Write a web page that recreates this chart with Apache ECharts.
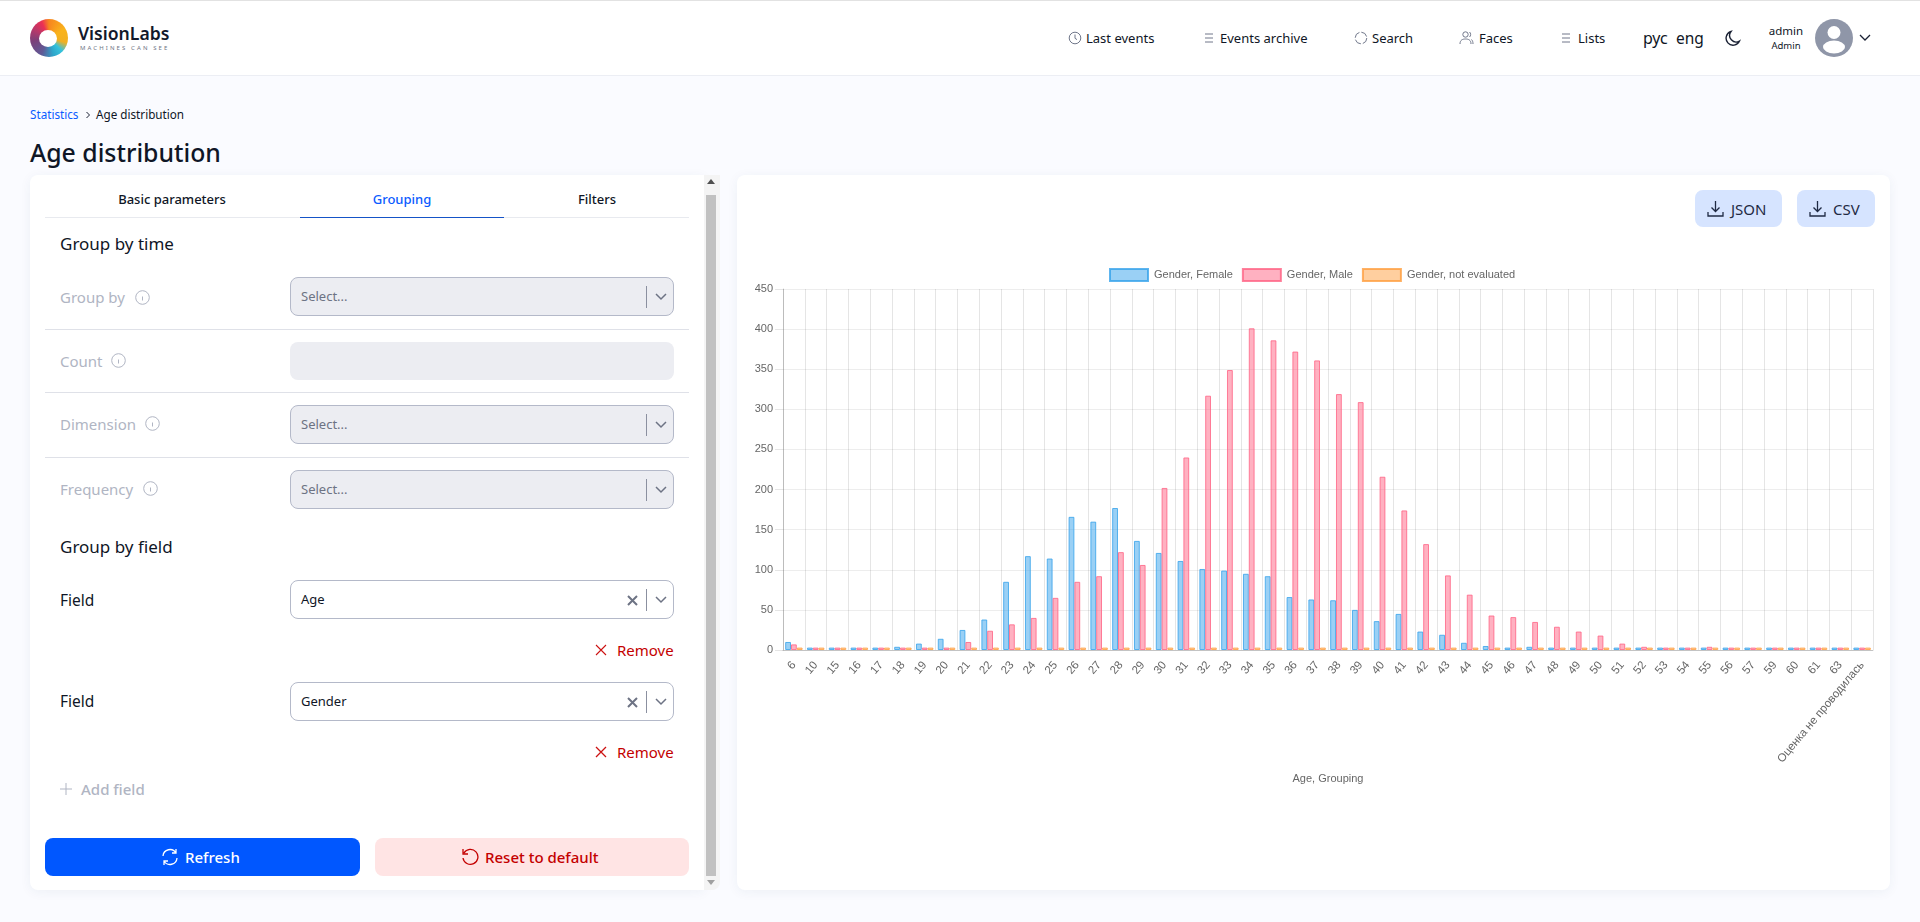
<!DOCTYPE html>
<html><head><meta charset="utf-8"><title>Age distribution</title>
<script src="https://cdn.jsdelivr.net/npm/echarts@6/dist/echarts.min.js"></script>
<style>
html,body{margin:0;padding:0;width:1920px;height:922px;overflow:hidden;background:#fafbff;font-family:"Noto Sans",sans-serif;color:#0f1626}
.a{position:absolute;white-space:nowrap}
.t{position:absolute;white-space:nowrap;transform:translateY(-50%);line-height:1}
.c{transform:translate(-50%,-50%)}
.card{position:absolute;background:#fff;box-shadow:0 2px 12px rgba(40,60,110,.06)}
.sel{position:absolute;left:290px;width:384px;height:39px;box-sizing:border-box;border:1px solid #b4b9c9;border-radius:8px;background:#fff}
.sel.dis{background:#ecedf2}
.sel span.v{position:absolute;left:10px;top:50%;transform:translateY(-50%);font-size:13px;line-height:1;margin-top:-0.5px}
.sel.dis span.v{color:#6d7384}
.sel i{position:absolute;left:355px;top:8px;height:22px;width:1px;background:#8b90a0}
.sel svg{position:absolute}
.lbl{font-size:15px;color:#b0b5c3}
.div{position:absolute;left:45px;width:644px;height:1px;background:#dfe1e8}
.btn{position:absolute;border-radius:8px}
svg{display:block}
</style></head><body>
<div class="a" style="left:0;top:0;width:1920px;height:76px;background:#fff;border-top:1px solid #e2e2e2;border-bottom:1px solid #eceef4;box-sizing:border-box"></div>
<div class="a" style="left:30px;top:19px;width:38px;height:38px;border-radius:50%;background:conic-gradient(from 0deg,#f7861f 0deg,#f9b31c 60deg,#f2b021 105deg,#36c3dc 135deg,#2ea6cb 165deg,#5f5a96 205deg,#7c3f78 260deg,#b7386a 300deg,#ec2f55 335deg,#f7861f 360deg)"></div>
<div class="a" style="left:39px;top:30px;width:18px;height:17px;border-radius:50%;background:#fff"></div>
<div class="t" style="left:78px;top:34px;font-size:17.6px;font-weight:600;color:#12192b">VisionLabs</div>
<div class="t" style="left:80px;top:48px;font-size:6px;letter-spacing:2.1px;color:#6f7585">MACHINES CAN SEE</div>

<svg class="a" style="left:1068px;top:31px" width="14" height="14" viewBox="0 0 14 14" fill="none" stroke="#70778a"><circle cx="7" cy="7" r="5.8"/><path d="M7 3.5V7.3L9 8.6"/></svg>
<div class="t" style="left:1086px;top:37.5px;font-size:13px">Last events</div>
<svg class="a" style="left:1204px;top:32px" width="10" height="12" viewBox="0 0 10 12" stroke="#70778a"><path d="M1 2H9M1 6H9M1 10H9"/></svg>
<div class="t" style="left:1220px;top:37.5px;font-size:13px">Events archive</div>
<svg class="a" style="left:1354px;top:31px" width="14" height="14" viewBox="0 0 14 14" fill="none" stroke="#70778a"><circle cx="7" cy="7" r="5.8" stroke-dasharray="7 2"/></svg>
<div class="t" style="left:1372px;top:37.5px;font-size:13px">Search</div>
<svg class="a" style="left:1459px;top:30px" width="15" height="15" viewBox="0 0 15 15" fill="none" stroke="#70778a"><circle cx="6.5" cy="4.5" r="2.7"/><path d="M1 14C1 10 3.5 9 6.5 9S12 10 12 14M10.5 2C12 3 12 6 10.5 7M12.5 9.5C13.5 10.5 14 12 14 14"/></svg>
<div class="t" style="left:1479px;top:37.5px;font-size:13px">Faces</div>
<svg class="a" style="left:1561px;top:32px" width="10" height="12" viewBox="0 0 10 12" stroke="#70778a"><path d="M1 2H9M1 6H9M1 10H9"/></svg>
<div class="t" style="left:1578px;top:37.5px;font-size:13px">Lists</div>
<div class="t" style="left:1643px;top:38px;font-size:16px">рус</div>
<div class="t" style="left:1676px;top:38.5px;font-size:15.5px">eng</div>
<svg class="a" style="left:1725px;top:30px" width="16" height="16" viewBox="0 0 16 16" fill="none" stroke="#1a2134" stroke-width="1.4"><path d="M6 1.5A7 7 0 1 0 14.5 11 6.5 6.5 0 0 1 6 1.5Z"/></svg>
<div class="t c" style="left:1786px;top:30.5px;font-size:11.5px;transform:translate(-50%,-50%)">admin</div>
<div class="t c" style="left:1786px;top:45.5px;font-size:9.5px;transform:translate(-50%,-50%)">Admin</div>
<svg class="a" style="left:1815px;top:19px" width="38" height="38" viewBox="0 0 38 38"><circle cx="19" cy="19" r="19" fill="#8f96a8"/><circle cx="19" cy="13.5" r="6.5" fill="#fff"/><ellipse cx="19" cy="28" rx="11" ry="6.5" fill="#fff"/></svg>
<svg class="a" style="left:1859px;top:33px" width="12" height="10" viewBox="0 0 12 10" fill="none" stroke="#1a2134" stroke-width="1.3"><path d="M1 2L6 7L11 2"/></svg>

<div class="t" style="left:30px;top:115px;font-size:11.7px;color:#0a5bff">Statistics</div>
<svg class="a" style="left:85px;top:111px" width="6" height="8" viewBox="0 0 6 8" fill="none" stroke="#1a2134"><path d="M1.5 1L4.5 4L1.5 7"/></svg>
<div class="t" style="left:96px;top:115px;font-size:11.7px">Age distribution</div>
<div class="t" style="left:30px;top:152px;font-size:24.8px;font-weight:500">Age distribution</div>

<div class="card" style="left:30px;top:175px;width:674px;height:715px;border-radius:8px 0 0 8px"></div>
<div class="a" style="left:704px;top:175px;width:16px;height:715px;background:#f4f4f4;border-radius:0 0 8px 0"></div>
<div class="a" style="left:706px;top:195px;width:10px;height:681px;background:#c1c1c1"></div>
<svg class="a" style="left:707px;top:179px" width="8" height="6" viewBox="0 0 8 6"><path d="M0 5L4 0L8 5Z" fill="#505050"/></svg>
<svg class="a" style="left:707px;top:880px" width="8" height="6" viewBox="0 0 8 6"><path d="M0 0L4 5L8 0Z" fill="#a0a0a0"/></svg>

<div class="t c" style="left:172px;top:199px;font-size:13px;font-weight:500;transform:translate(-50%,-50%)">Basic parameters</div>
<div class="t c" style="left:402px;top:199px;font-size:13px;font-weight:500;color:#0a5bff;transform:translate(-50%,-50%)">Grouping</div>
<div class="t c" style="left:597px;top:199px;font-size:13px;font-weight:500;transform:translate(-50%,-50%)">Filters</div>
<div class="div" style="top:217px;background:#e8eaef"></div>
<div class="a" style="left:300px;top:217px;width:204px;height:1px;background:#1553c7"></div>

<div class="t" style="left:60px;top:243px;font-size:17px;font-weight:400">Group by time</div>
<div class="t lbl" style="left:60px;top:297px">Group by</div>
<svg class="a" style="left:135px;top:290px" width="15" height="15" viewBox="0 0 15 15" fill="none" stroke="#b0b5c3"><circle cx="7.5" cy="7.5" r="6.8"/><path d="M7.5 6.5V10.5"/></svg>
<div class="sel dis" style="top:277px"><span class="v">Select...</span><i></i><svg style="left:364px;top:14px" width="12" height="10" viewBox="0 0 12 10" fill="none" stroke="#6d7384" stroke-width="1.5"><path d="M1 2L6 7L11 2"/></svg></div>
<div class="div" style="top:329px"></div>
<div class="t lbl" style="left:60px;top:361px">Count</div>
<svg class="a" style="left:111px;top:353px" width="15" height="15" viewBox="0 0 15 15" fill="none" stroke="#b0b5c3"><circle cx="7.5" cy="7.5" r="6.8"/><path d="M7.5 6.5V10.5"/></svg>
<div class="a" style="left:290px;top:342px;width:384px;height:38px;background:#ecedf2;border-radius:8px"></div>
<div class="div" style="top:392px"></div>
<div class="t lbl" style="left:60px;top:424px">Dimension</div>
<svg class="a" style="left:145px;top:416px" width="15" height="15" viewBox="0 0 15 15" fill="none" stroke="#b0b5c3"><circle cx="7.5" cy="7.5" r="6.8"/><path d="M7.5 6.5V10.5"/></svg>
<div class="sel dis" style="top:405px"><span class="v">Select...</span><i></i><svg style="left:364px;top:14px" width="12" height="10" viewBox="0 0 12 10" fill="none" stroke="#6d7384" stroke-width="1.5"><path d="M1 2L6 7L11 2"/></svg></div>
<div class="div" style="top:457px"></div>
<div class="t lbl" style="left:60px;top:489px">Frequency</div>
<svg class="a" style="left:143px;top:481px" width="15" height="15" viewBox="0 0 15 15" fill="none" stroke="#b0b5c3"><circle cx="7.5" cy="7.5" r="6.8"/><path d="M7.5 6.5V10.5"/></svg>
<div class="sel dis" style="top:470px"><span class="v">Select...</span><i></i><svg style="left:364px;top:14px" width="12" height="10" viewBox="0 0 12 10" fill="none" stroke="#6d7384" stroke-width="1.5"><path d="M1 2L6 7L11 2"/></svg></div>

<div class="t" style="left:60px;top:546px;font-size:17px;font-weight:400">Group by field</div>
<div class="t" style="left:60px;top:601px;font-size:15.5px;font-weight:400">Field</div>
<div class="sel" style="top:580px"><span class="v">Age</span><svg style="left:336px;top:14px" width="11" height="11" viewBox="0 0 11 11" stroke="#6d7384" stroke-width="2"><path d="M1 1L10 10M10 1L1 10"/></svg><i></i><svg style="left:364px;top:14px" width="12" height="10" viewBox="0 0 12 10" fill="none" stroke="#6d7384" stroke-width="1.5"><path d="M1 2L6 7L11 2"/></svg></div>
<svg class="a" style="left:595px;top:644px" width="12" height="12" viewBox="0 0 12 12" stroke="#cc1111" stroke-width="1.1"><path d="M1 1L11 11M11 1L1 11"/></svg>
<div class="t" style="left:617px;top:650px;font-size:15px;color:#c40000">Remove</div>
<div class="t" style="left:60px;top:702px;font-size:15.5px;font-weight:400">Field</div>
<div class="sel" style="top:682px"><span class="v">Gender</span><svg style="left:336px;top:14px" width="11" height="11" viewBox="0 0 11 11" stroke="#6d7384" stroke-width="2"><path d="M1 1L10 10M10 1L1 10"/></svg><i></i><svg style="left:364px;top:14px" width="12" height="10" viewBox="0 0 12 10" fill="none" stroke="#6d7384" stroke-width="1.5"><path d="M1 2L6 7L11 2"/></svg></div>
<svg class="a" style="left:595px;top:746px" width="12" height="12" viewBox="0 0 12 12" stroke="#cc1111" stroke-width="1.3"><path d="M1 1L11 11M11 1L1 11"/></svg>
<div class="t" style="left:617px;top:752px;font-size:15px;color:#c40000">Remove</div>
<svg class="a" style="left:60px;top:783px" width="12" height="12" viewBox="0 0 12 12" stroke="#b0b5c3"><path d="M6 0V12M0 6H12"/></svg>
<div class="t" style="left:81px;top:789px;font-size:15px;font-weight:500;color:#b0b5c3">Add field</div>

<div class="btn" style="left:45px;top:838px;width:315px;height:38px;background:#0057ff"></div>
<svg class="a" style="left:161px;top:848px" width="18" height="18" viewBox="0 0 18 18" fill="none" stroke="#fff" stroke-width="1.3"><path d="M2 8A7 7 0 0 1 15 5M16 10A7 7 0 0 1 3 13M15 1V5H11M3 17V13H7"/></svg>
<div class="t" style="left:185px;top:857px;font-size:15px;font-weight:500;color:#fff">Refresh</div>
<div class="btn" style="left:375px;top:838px;width:314px;height:38px;background:#ffe4e4"></div>
<svg class="a" style="left:461px;top:848px" width="18" height="18" viewBox="0 0 18 18" fill="none" stroke="#c40000" stroke-width="1.3"><path d="M3 5A7.5 7.5 0 1 1 2 10M2 1V6H7"/></svg>
<div class="t" style="left:485px;top:857px;font-size:15px;font-weight:500;color:#c40000">Reset to default</div>

<div class="card" style="left:737px;top:175px;width:1153px;height:715px;border-radius:8px"></div>
<div class="btn" style="left:1695px;top:190px;width:87px;height:37px;background:#d6e4ff"></div>
<svg class="a" style="left:1707px;top:200px" width="17" height="17" viewBox="0 0 17 17" fill="none" stroke="#1f2a44" stroke-width="1.3"><path d="M8.5 1V11M4.5 7.5L8.5 11.5L12.5 7.5M1 12V16H16V12"/></svg>
<div class="t" style="left:1731px;top:209px;font-size:15px;font-weight:400;color:#1f2a44">JSON</div>
<div class="btn" style="left:1797px;top:190px;width:78px;height:37px;background:#d6e4ff"></div>
<svg class="a" style="left:1809px;top:200px" width="17" height="17" viewBox="0 0 17 17" fill="none" stroke="#1f2a44" stroke-width="1.3"><path d="M8.5 1V11M4.5 7.5L8.5 11.5L12.5 7.5M1 12V16H16V12"/></svg>
<div class="t" style="left:1833px;top:209px;font-size:15px;font-weight:400;color:#1f2a44">CSV</div>

<div id="chart" class="a" style="left:737px;top:250px;width:1153px;height:600px"></div>
<script>
const categories = ['6','10','15','16','17','18','19','20','21','22','23','24','25','26','27','28','29','30','31','32','33','34','35','36','37','38','39','40','41','42','43','44','45','46','47','48','49','50','51','52','53','54','55','56','57','59','60','61','63','Оценка не проводилась'];
const female = [10,3,3,3,3,4,8,14,25,38,85,117,114,166,160,177,136,121,111,101,99,95,92,66,63,62,50,36,45,23,19,9,5,3,4,3,3,3,3,3,3,3,3,3,3,3,3,3,3,3];
const male = [7,3,3,3,3,3,3,3,10,24,32,40,65,85,92,122,106,202,240,317,349,401,386,372,361,319,309,216,174,132,93,69,43,41,35,29,23,18,8,4,3,3,4,3,3,3,3,3,3,3];
const notEvaluated = [3,3,3,3,3,3,3,3,3,3,3,3,3,3,3,3,3,3,3,3,3,3,3,3,3,3,3,3,3,3,3,3,3,3,3,3,3,3,3,3,3,3,3,3,3,3,3,3,3,3];
const yTicks = {min:0,max:450,interval:50};
const font = '"Liberation Sans",Arial,sans-serif';
const grid = 'rgba(0,0,0,0.1)';
function bar(name,data,rgb){return {name,type:'bar',data,barGap:0,barCategoryGap:'20%',animation:false,
  itemStyle:{color:`rgba(${rgb},0.5)`,borderColor:`rgba(${rgb},0.8)`,borderWidth:1}};}
const chart = echarts.init(document.getElementById('chart'),null,{renderer:'canvas'});
chart.setOption({
  animation:false,
  textStyle:{fontFamily:font},
  legend:{left:367,top:13,itemWidth:38,itemHeight:12,itemGap:9,icon:'rect',selectedMode:false,
    textStyle:{color:'#666',fontSize:11,fontFamily:font,padding:[0,0,0,1]}},
  grid:{left:46,top:39,width:1090,height:361},
  xAxis:{type:'category',data:categories,name:'Age, Grouping',nameLocation:'middle',nameGap:123,
    nameTextStyle:{color:'#666',fontSize:11,fontFamily:font},
    axisLine:{lineStyle:{color:'rgba(0,0,0,0.18)'}},
    axisTick:{length:8,interval:0,lineStyle:{color:grid}},
    axisLabel:{interval:0,rotate:50,color:'#666',fontSize:11.5,fontFamily:font,margin:13,hideOverlap:false},
    splitLine:{show:true,interval:0,lineStyle:{color:grid}}},
  yAxis:{type:'value',min:yTicks.min,max:yTicks.max,interval:yTicks.interval,
    axisLine:{show:true,lineStyle:{color:'rgba(0,0,0,0.18)'}},
    axisTick:{show:true,length:8,lineStyle:{color:grid}},
    axisLabel:{color:'#666',fontSize:11,fontFamily:font,margin:10},
    splitLine:{show:true,lineStyle:{color:'rgba(0,0,0,0.07)',width:1}}},
  series:[bar('Gender, Female',female,'54,162,235'),bar('Gender, Male',male,'255,99,132'),bar('Gender, not evaluated',notEvaluated,'255,159,64')]
});
</script>
</body></html>
